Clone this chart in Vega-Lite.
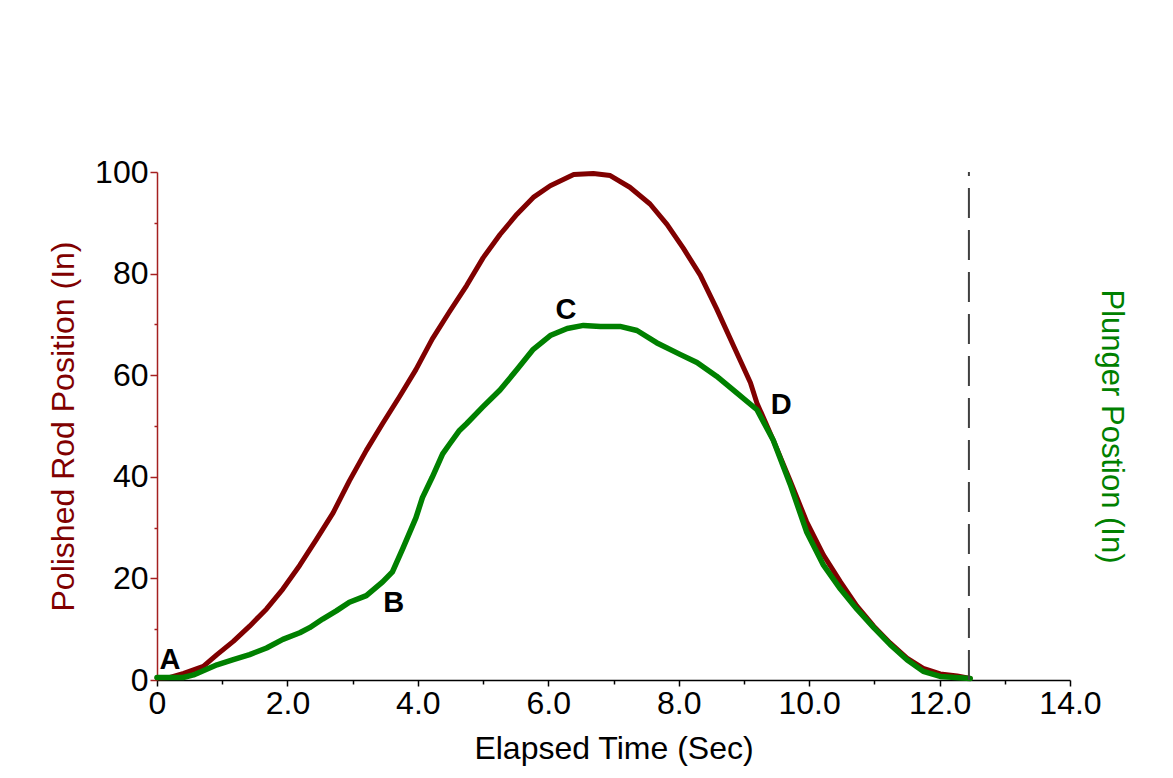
{
  "$schema": "https://vega.github.io/schema/vega-lite/v6.json",
  "autosize": "none",
  "width": 913,
  "height": 508,
  "padding": {"left": 157, "top": 172, "right": 103, "bottom": 98},
  "background": "white",
  "config": {
    "view": {"stroke": null},
    "font": "Liberation Sans",
    "axis": {"grid": false, "labelFlush": false}
  },
  "datasets": {
    "curves": [
      {"t": 0, "v": 0.4, "series": "Polished Rod"},
      {"t": 0.2, "v": 0.5, "series": "Polished Rod"},
      {"t": 0.41, "v": 1.3, "series": "Polished Rod"},
      {"t": 0.71, "v": 2.7, "series": "Polished Rod"},
      {"t": 0.92, "v": 5, "series": "Polished Rod"},
      {"t": 1.17, "v": 7.6, "series": "Polished Rod"},
      {"t": 1.42, "v": 10.6, "series": "Polished Rod"},
      {"t": 1.68, "v": 14, "series": "Polished Rod"},
      {"t": 1.93, "v": 17.9, "series": "Polished Rod"},
      {"t": 2.19, "v": 22.6, "series": "Polished Rod"},
      {"t": 2.44, "v": 27.6, "series": "Polished Rod"},
      {"t": 2.7, "v": 32.9, "series": "Polished Rod"},
      {"t": 2.95, "v": 39.2, "series": "Polished Rod"},
      {"t": 3.21, "v": 45.2, "series": "Polished Rod"},
      {"t": 3.46, "v": 50.5, "series": "Polished Rod"},
      {"t": 3.72, "v": 55.8, "series": "Polished Rod"},
      {"t": 3.97, "v": 61.1, "series": "Polished Rod"},
      {"t": 4.22, "v": 67.1, "series": "Polished Rod"},
      {"t": 4.48, "v": 72.4, "series": "Polished Rod"},
      {"t": 4.75, "v": 77.7, "series": "Polished Rod"},
      {"t": 5.0, "v": 83.1, "series": "Polished Rod"},
      {"t": 5.26, "v": 87.7, "series": "Polished Rod"},
      {"t": 5.52, "v": 91.7, "series": "Polished Rod"},
      {"t": 5.77, "v": 95, "series": "Polished Rod"},
      {"t": 6.03, "v": 97.3, "series": "Polished Rod"},
      {"t": 6.39, "v": 99.5, "series": "Polished Rod"},
      {"t": 6.69, "v": 99.7, "series": "Polished Rod"},
      {"t": 6.95, "v": 99.3, "series": "Polished Rod"},
      {"t": 7.25, "v": 97, "series": "Polished Rod"},
      {"t": 7.56, "v": 93.7, "series": "Polished Rod"},
      {"t": 7.82, "v": 89.7, "series": "Polished Rod"},
      {"t": 8.07, "v": 85, "series": "Polished Rod"},
      {"t": 8.33, "v": 79.7, "series": "Polished Rod"},
      {"t": 8.58, "v": 73.1, "series": "Polished Rod"},
      {"t": 8.84, "v": 65.8, "series": "Polished Rod"},
      {"t": 9.1, "v": 58.5, "series": "Polished Rod"},
      {"t": 9.2, "v": 54.5, "series": "Polished Rod"},
      {"t": 9.45, "v": 47.2, "series": "Polished Rod"},
      {"t": 9.71, "v": 39.2, "series": "Polished Rod"},
      {"t": 9.96, "v": 31.2, "series": "Polished Rod"},
      {"t": 10.22, "v": 24.6, "series": "Polished Rod"},
      {"t": 10.48, "v": 19.3, "series": "Polished Rod"},
      {"t": 10.73, "v": 14.6, "series": "Polished Rod"},
      {"t": 10.99, "v": 10.6, "series": "Polished Rod"},
      {"t": 11.24, "v": 7.3, "series": "Polished Rod"},
      {"t": 11.5, "v": 4.3, "series": "Polished Rod"},
      {"t": 11.75, "v": 2.3, "series": "Polished Rod"},
      {"t": 12.01, "v": 1.2, "series": "Polished Rod"},
      {"t": 12.27, "v": 0.8, "series": "Polished Rod"},
      {"t": 12.47, "v": 0.3, "series": "Polished Rod"},
      {"t": 0, "v": 0.5, "series": "Plunger"},
      {"t": 0.4, "v": 0.5, "series": "Plunger"},
      {"t": 0.56, "v": 1, "series": "Plunger"},
      {"t": 0.92, "v": 3, "series": "Plunger"},
      {"t": 1.17, "v": 4, "series": "Plunger"},
      {"t": 1.42, "v": 5, "series": "Plunger"},
      {"t": 1.68, "v": 6.3, "series": "Plunger"},
      {"t": 1.93, "v": 8, "series": "Plunger"},
      {"t": 2.19, "v": 9.3, "series": "Plunger"},
      {"t": 2.34, "v": 10.3, "series": "Plunger"},
      {"t": 2.54, "v": 12, "series": "Plunger"},
      {"t": 2.75, "v": 13.6, "series": "Plunger"},
      {"t": 2.95, "v": 15.3, "series": "Plunger"},
      {"t": 3.21, "v": 16.6, "series": "Plunger"},
      {"t": 3.46, "v": 19.3, "series": "Plunger"},
      {"t": 3.61, "v": 21.3, "series": "Plunger"},
      {"t": 3.77, "v": 25.9, "series": "Plunger"},
      {"t": 3.97, "v": 31.9, "series": "Plunger"},
      {"t": 4.07, "v": 35.9, "series": "Plunger"},
      {"t": 4.22, "v": 39.9, "series": "Plunger"},
      {"t": 4.38, "v": 44.5, "series": "Plunger"},
      {"t": 4.49, "v": 46.5, "series": "Plunger"},
      {"t": 4.63, "v": 49, "series": "Plunger"},
      {"t": 4.75, "v": 50.5, "series": "Plunger"},
      {"t": 5.0, "v": 53.8, "series": "Plunger"},
      {"t": 5.26, "v": 57.1, "series": "Plunger"},
      {"t": 5.52, "v": 61.1, "series": "Plunger"},
      {"t": 5.77, "v": 65.1, "series": "Plunger"},
      {"t": 6.03, "v": 67.8, "series": "Plunger"},
      {"t": 6.29, "v": 69.2, "series": "Plunger"},
      {"t": 6.54, "v": 69.8, "series": "Plunger"},
      {"t": 6.8, "v": 69.6, "series": "Plunger"},
      {"t": 7.1, "v": 69.6, "series": "Plunger"},
      {"t": 7.36, "v": 68.8, "series": "Plunger"},
      {"t": 7.66, "v": 66.4, "series": "Plunger"},
      {"t": 8.02, "v": 64.1, "series": "Plunger"},
      {"t": 8.28, "v": 62.5, "series": "Plunger"},
      {"t": 8.58, "v": 59.8, "series": "Plunger"},
      {"t": 8.89, "v": 56.5, "series": "Plunger"},
      {"t": 9.2, "v": 53.2, "series": "Plunger"},
      {"t": 9.45, "v": 47.2, "series": "Plunger"},
      {"t": 9.71, "v": 38.5, "series": "Plunger"},
      {"t": 9.96, "v": 29.2, "series": "Plunger"},
      {"t": 10.22, "v": 22.6, "series": "Plunger"},
      {"t": 10.48, "v": 17.9, "series": "Plunger"},
      {"t": 10.73, "v": 14, "series": "Plunger"},
      {"t": 10.99, "v": 10.3, "series": "Plunger"},
      {"t": 11.24, "v": 7, "series": "Plunger"},
      {"t": 11.5, "v": 4, "series": "Plunger"},
      {"t": 11.75, "v": 1.7, "series": "Plunger"},
      {"t": 12.01, "v": 0.7, "series": "Plunger"},
      {"t": 12.47, "v": 0.3, "series": "Plunger"}
    ],
    "marks": [
      {"t": 0.2, "v": 3.9, "label": "A"},
      {"t": 3.63, "v": 15.2, "label": "B"},
      {"t": 6.27, "v": 72.8, "label": "C"},
      {"t": 9.57, "v": 54.2, "label": "D"}
    ],
    "cycle": [
      {"t": 12.45, "v0": 0, "v1": 100}
    ]
  },
  "resolve": {"axis": {"y": "independent"}},
  "layer": [
    {
      "data": {"name": "curves"},
      "transform": [{"filter": "datum.series === 'Polished Rod'"}],
      "mark": {"type": "line", "color": "#800000", "strokeWidth": 5, "strokeCap": "round", "strokeJoin": "round"},
      "encoding": {
        "x": {
          "field": "t", "type": "quantitative",
          "scale": {"domain": [0, 14], "nice": false},
          "axis": {
            "title": "Elapsed Time (Sec)",
            "values": [0, 1, 2, 3, 4, 5, 6, 7, 8, 9, 10, 11, 12, 13, 14],
            "labelExpr": "datum.value === 0 ? '0' : (datum.value % 2 === 0 ? format(datum.value, '.1f') : '')",
            "domainColor": "black",
            "domainWidth": 1.5,
            "tickColor": "black",
            "tickWidth": 1.5,
            "tickSize": {"condition": {"test": "datum.value % 2 === 0", "value": 6}, "value": 4},
            "labelFontSize": 32,
            "labelColor": "black",
            "labelPadding": 2,
            "labelFont": "Liberation Sans",
            "titleFont": "Liberation Sans",
            "titleFontSize": 32,
            "titleFontWeight": "normal",
            "titleColor": "black",
            "titlePadding": 14
          }
        },
        "y": {
          "field": "v", "type": "quantitative",
          "scale": {"domain": [0, 100], "nice": false},
          "axis": {
            "title": "Polished Rod Position (In)",
            "orient": "left",
            "values": [0, 10, 20, 30, 40, 50, 60, 70, 80, 90, 100],
            "labelExpr": "datum.value % 20 === 0 ? format(datum.value, 'd') : ''",
            "domainColor": "#a52020",
            "domainWidth": 1.5,
            "tickColor": "#a52020",
            "tickWidth": 1.5,
            "tickSize": {"condition": {"test": "datum.value % 20 === 0", "value": 7}, "value": 3},
            "labelFontSize": 32,
            "labelColor": "black",
            "labelPadding": 2,
            "labelFont": "Liberation Sans",
            "titleFont": "Liberation Sans",
            "titleFontSize": 32,
            "titleFontWeight": "normal",
            "titleColor": "#800000",
            "titlePadding": 14
          }
        }
      }
    },
    {
      "data": {"name": "curves"},
      "transform": [{"filter": "datum.series === 'Plunger'"}],
      "mark": {"type": "line", "color": "#008000", "strokeWidth": 5.5, "strokeCap": "round", "strokeJoin": "round"},
      "encoding": {
        "x": {"field": "t", "type": "quantitative", "scale": {"domain": [0, 14], "nice": false}},
        "y": {
          "field": "v", "type": "quantitative",
          "scale": {"domain": [0, 100], "nice": false},
          "axis": {
            "title": "Plunger Postion (In)",
            "orient": "right",
            "domain": false,
            "ticks": false,
            "labels": false,
            "titleAngle": 90,
            "titleFont": "Liberation Sans",
            "titleFontSize": 31,
            "titleFontWeight": "normal",
            "titleColor": "#008000",
            "titlePadding": 24
          }
        }
      }
    },
    {
      "data": {"name": "cycle"},
      "mark": {"type": "rule", "color": "#404040", "strokeWidth": 2, "strokeDash": [30, 12]},
      "encoding": {
        "x": {"field": "t", "type": "quantitative", "scale": {"domain": [0, 14], "nice": false}},
        "y": {"field": "v0", "type": "quantitative", "scale": {"domain": [0, 100], "nice": false}, "axis": null},
        "y2": {"field": "v1"}
      }
    },
    {
      "data": {"name": "marks"},
      "mark": {"type": "text", "font": "Liberation Sans", "fontSize": 29, "fontWeight": "bold", "color": "black", "align": "center", "baseline": "middle"},
      "encoding": {
        "x": {"field": "t", "type": "quantitative", "scale": {"domain": [0, 14], "nice": false}},
        "y": {"field": "v", "type": "quantitative", "scale": {"domain": [0, 100], "nice": false}, "axis": null},
        "text": {"field": "label"}
      }
    }
  ]
}
